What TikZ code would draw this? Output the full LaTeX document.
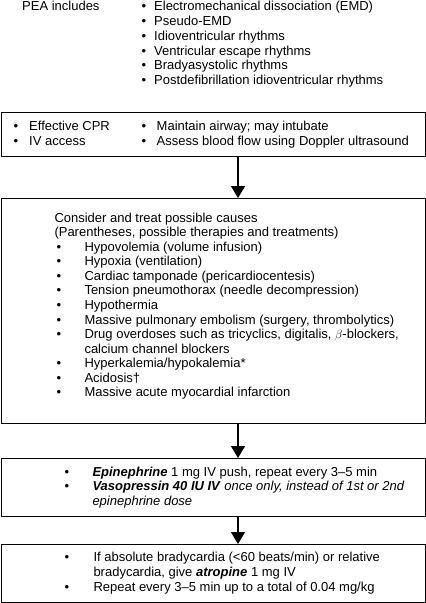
\documentclass[tikz,border=0pt]{standalone}
\usepackage{fontspec}
\setmainfont{Liberation Sans}
\usetikzlibrary{arrows.meta}
\begin{document}
\begin{tikzpicture}[x=1pt,y=-1pt,
  txt/.style={anchor=base west, inner sep=0pt, font=\fontsize{13}{14.6}\selectfont},
  box/.style={draw, line width=0.8pt, anchor=north west, minimum width=424pt, inner sep=0pt},
  arr/.style={line width=1.3pt, -{Triangle[width=14pt,length=12pt]}}]
\useasboundingbox (0,0) rectangle (426,603);
% top section
\node[txt] (pea) at (22,10.7) {PEA includes};
\foreach \t [count=\i] in {{Electromechanical dissociation (EMD)},{Pseudo-EMD},{Idioventricular rhythms},{Ventricular escape rhythms},{Bradyasystolic rhythms},{Postdefibrillation idioventricular rhythms}}{
  \node[txt] (tb\i) at (141.5,{10.7+14.8*(\i-1)}) {•};
  \node[txt] (tt\i) at (154,{10.7+14.8*(\i-1)}) {\t};
}
% box 1
\node[box, minimum height=44pt] (b1) at (1,112) {};
\node[txt] (b1a) at (13.5,130) {•};
\node[txt] (b1at) at (29,130) {Effective CPR};
\node[txt] (b1b) at (13.5,145) {•};
\node[txt] (b1bt) at (29,145) {IV access};
\node[txt] (b1c) at (141.5,130) {•};
\node[txt] (b1ct) at (156.5,130) {Maintain airway; may intubate};
\node[txt] (b1d) at (141.5,145) {•};
\node[txt] (b1dt) at (156.5,145) {Assess blood flow using Doppler ultrasound};
% box 2
\node[box, minimum height=225pt] (b2) at (1,198) {};
\node[txt] (c0) at (54.3,222) {Consider and treat possible causes};
\node[txt] (c1) at (54.3,236.6) {(Parentheses, possible therapies and treatments)};
\foreach \t/\k in {{Hypovolemia (volume infusion)}/2,{Hypoxia (ventilation)}/3,{Cardiac tamponade (pericardiocentesis)}/4,{Tension pneumothorax (needle decompression)}/5,{Hypothermia}/6,{Massive pulmonary embolism (surgery, thrombolytics)}/7,{Drug overdoses such as tricyclics, digitalis, $\beta$-blockers,}/8,{Hyperkalemia/hypokalemia*}/10,{Acidosis†}/11,{Massive acute myocardial infarction}/12}{
  \node[txt] (cb\k) at (56.5,{222+14.58*\k}) {•};
  \node[txt] (ct\k) at (84.3,{222+14.58*\k}) {\t};
}
\node[txt] (ct9) at (84.3,{222+14.58*9}) {calcium channel blockers};
% box 3
\node[box, minimum height=58pt] (b3) at (1,458) {};
\node[txt] (d1b) at (64.5,476) {•};
\node[txt] (d1t) at (92.3,476) {\textbf{\textit{Epinephrine}} 1 mg IV push, repeat every 3–5 min};
\node[txt] (d2b) at (64.5,490.6) {•};
\node[txt] (d2t) at (92.3,490.6) {\textbf{\textit{Vasopressin 40 IU IV}} \textit{once only, instead of 1st or 2nd}};
\node[txt] (d3t) at (92.3,505.2) {\textit{epinephrine dose}};
% box 4
\node[box, minimum height=58pt] (b4) at (1,544) {};
\node[txt] (e1b) at (64.5,561.7) {•};
\node[txt] (e1t) at (93.3,561.7) {If absolute bradycardia (<60 beats/min) or relative};
\node[txt] (e2t) at (93.3,576.7) {bradycardia, give \textbf{\textit{atropine}} 1 mg IV};
\node[txt] (e3b) at (64.5,591.7) {•};
\node[txt] (e3t) at (93.3,591.7) {Repeat every 3–5 min up to a total of 0.04 mg/kg};
% arrows
\coordinate (ax) at (238,0);
\draw[arr] (b1.south -| ax) -- (b2.north -| ax);
\draw[arr] (b2.south -| ax) -- (b3.north -| ax);
\draw[arr] (b3.south -| ax) -- (b4.north -| ax);
\end{tikzpicture}
\end{document}
